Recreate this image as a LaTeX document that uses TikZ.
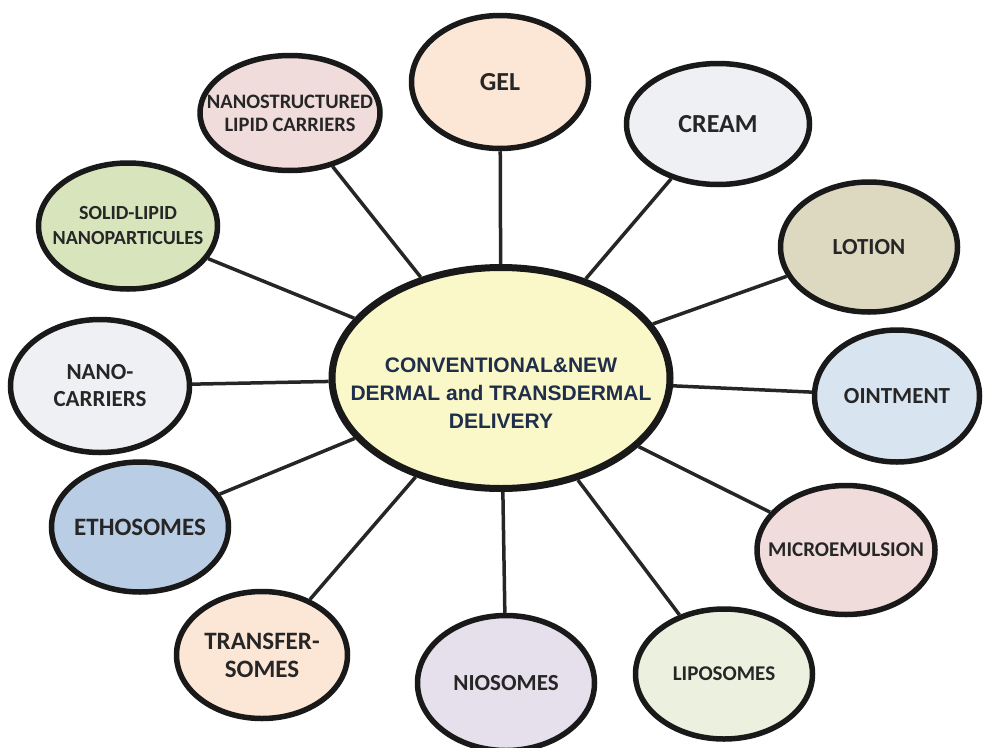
\documentclass[tikz,border=0pt]{standalone}
\usepackage{fontspec}
\setmainfont{Carlito}
\newfontfamily\hubfont{Liberation Sans}
\usetikzlibrary{shapes.geometric}
\definecolor{hubfill}{HTML}{FAF8C8}
\definecolor{hubtext}{HTML}{1F2E4A}
\definecolor{peach}{HTML}{FCE6D6}
\definecolor{palegray}{HTML}{EFF0F3}
\definecolor{tan}{HTML}{DDD8C0}
\definecolor{paleblue}{HTML}{D9E4F1}
\definecolor{palepink}{HTML}{F1DCDC}
\definecolor{palegreen}{HTML}{EBF1DE}
\definecolor{lavender}{HTML}{E5E0EC}
\definecolor{midblue}{HTML}{B9CDE4}
\definecolor{sagegreen}{HTML}{D7E4BC}
\begin{document}
\begin{tikzpicture}[x = 1pt, y = -1pt,
    item/.style = {ellipse, draw = black!90, line width = 5.5pt, inner xsep = -40pt, inner ysep = 0pt,
                   minimum width = 177pt, minimum height = 129pt, align = center,
                   text = black!85},
    hub/.style = {ellipse, draw = black!90, line width = 7pt, fill = hubfill,
                  inner xsep = -40pt, inner ysep = 0pt,
                  minimum width = 338pt, minimum height = 221pt,
                  font = \hubfont\bfseries\fontsize{21}{28}\selectfont, text = hubtext},
    spoke/.style = {line width = 3.5pt, black!85}]
      \useasboundingbox (0, 0) rectangle (985, 747);
      % text sits a little below the middle of the hub
      \node[hub] (hub) at (501, 378) {\raisebox{-22pt}[0pt][0pt]{\begin{tabular}{@{}c@{}}CONVENTIONAL\&NEW\\DERMAL and TRANSDERMAL\\DELIVERY\end{tabular}}};
      % outer ring, clockwise from the top
      \node[item, fill = peach, minimum height = 133pt, font = \bfseries\fontsize{26}{28}\selectfont] (gel) at (500, 82) {GEL};
      \node[item, fill = palegray, minimum width = 183pt, minimum height = 121pt, font = \bfseries\fontsize{26}{28}\selectfont] (cream) at (718, 124) {CREAM};
      \node[item, fill = tan, minimum width = 177pt, minimum height = 130pt, font = \bfseries\fontsize{23}{26}\selectfont] (lotion) at (869, 247) {LOTION};
      \node[item, fill = paleblue, minimum width = 165pt, minimum height = 132pt, font = \bfseries\fontsize{23}{26}\selectfont] (ointment) at (897, 396) {OINTMENT};
      \node[item, fill = palepink, minimum width = 178pt, font = \bfseries\fontsize{21}{24}\selectfont] (micro) at (846, 550) {MICROEMULSION};
      \node[item, fill = palegreen, minimum width = 177pt, minimum height = 130pt, font = \bfseries\fontsize{21}{24}\selectfont] (lipo) at (724, 674) {LIPOSOMES};
      \node[item, fill = lavender, minimum height = 135pt, font = \bfseries\fontsize{23}{26}\selectfont] (nio) at (506, 683) {NIOSOMES};
      \node[item, fill = peach, minimum width = 171pt, minimum height = 127pt, font = \bfseries\fontsize{25}{28}\selectfont] (transfer) at (262, 655) {TRANSFER-\\SOMES};
      \node[item, fill = midblue, minimum height = 130pt, font = \bfseries\fontsize{25}{28}\selectfont] (etho) at (140, 527) {ETHOSOMES};
      \node[item, fill = palegray, minimum width = 179pt, minimum height = 133pt, font = \bfseries\fontsize{23}{27}\selectfont] (nanocarr) at (100, 386) {NANO-\\CARRIERS};
      \node[item, fill = sagegreen, minimum width = 179pt, minimum height = 126pt, font = \bfseries\fontsize{20}{25}\selectfont] (sln) at (128, 226) {SOLID-LIPID\\NANOPARTICULES};
      \node[item, fill = palepink, minimum width = 180pt, minimum height = 115pt, font = \bfseries\fontsize{20.5}{23}\selectfont] (nlc) at (290, 113) {NANOSTRUCTURED\\LIPID CARRIERS};
      \foreach \n in {gel, cream, lotion, ointment, micro, lipo, nio, transfer, etho, nanocarr, sln, nlc}
        \draw[spoke] (hub) -- (\n);
    \end{tikzpicture}
\end{document}
